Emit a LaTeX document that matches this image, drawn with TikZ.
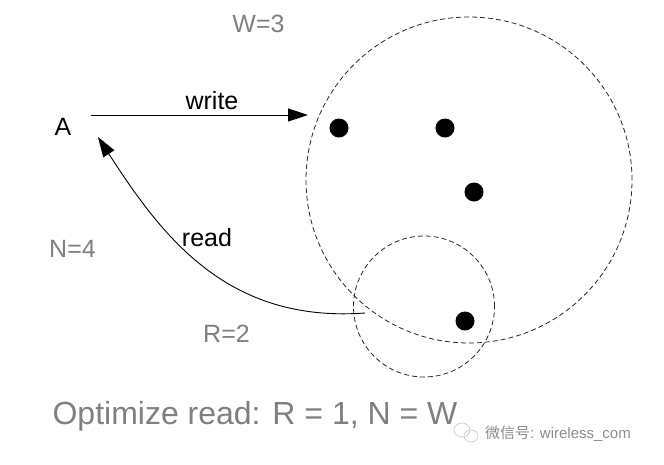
\documentclass[tikz,border=0pt]{standalone}
\usepackage{fontspec}
\setmainfont{Liberation Sans}
\newfontfamily\cjk{Noto Sans CJK SC}
\usetikzlibrary{arrows.meta, shapes.geometric}
\definecolor{labelGray}{RGB}{128, 128, 128}
\definecolor{markGray}{RGB}{140, 140, 140}
\tikzset{
    lbl/.style={inner sep=0pt, anchor=base, font=\fontsize{25}{30}\selectfont},
    glbl/.style={lbl, text=labelGray},
    replica/.style={circle, fill=black, inner sep=0pt, minimum size=19pt},
    quorum/.style={circle, draw=black!85, dash pattern=on 5pt off 3pt, line width=0.8pt, inner sep=0pt},
    arr/.style={-{Triangle[length=20pt, width=13pt]}, line width=0.9pt}
}

\begin{document}
\begin{tikzpicture}[x=1pt, y=-1pt]
    \useasboundingbox (0, 0) rectangle (664, 464);

    % Quorums
    \node[quorum, minimum size=326pt] (wset) at (469, 180) {};
    \node[quorum, minimum size=141pt] (rset) at (424, 306.5) {};

    % Replicas
    \node[replica] (r1) at (339, 128) {};
    \node[replica] (r2) at (445, 128) {};
    \node[replica] (r3) at (474, 192) {};
    \node[replica] (r4) at (465, 321) {};

    % Client
    \node[lbl] (A) at (63, 135) {A};

    % Labels
    \node[glbl] (wlbl) at (258.5, 32) {W=3};
    \node[glbl] (nlbl) at (72.5, 257) {N=4};
    \node[glbl] (rlbl) at (226.5, 342) {R=2};
    \node[lbl] (write) at (212, 109) {write};
    \node[lbl] (read) at (207, 246) {read};
    \node[glbl, font=\fontsize{32}{38}\selectfont] (title) at (255, 424) {Optimize read: R = 1, N = W};

    % Arrows
    \coordinate (wfrom) at (91, 115);
    \coordinate (wto) at (308, 115);
    \coordinate (rfrom) at (365, 313);
    \coordinate (rto) at (98, 137);
    \draw[arr] (wfrom) -- (wto);
    \draw[arr] (rfrom) .. controls (228, 323) and (163, 238) .. (rto);

    % Watermark
    \draw[gray!45, line width=0.6pt] (462, 430) ellipse (8pt and 7pt);
    \draw[gray!45, line width=0.6pt] (471, 436) ellipse (7pt and 6pt);
    \node[inner sep=0pt, anchor=base west, text=markGray, font=\fontsize{15}{18}\selectfont] (mark) at (485, 438) {{\cjk 微信号}: wireless\_com};
\end{tikzpicture}
\end{document}
